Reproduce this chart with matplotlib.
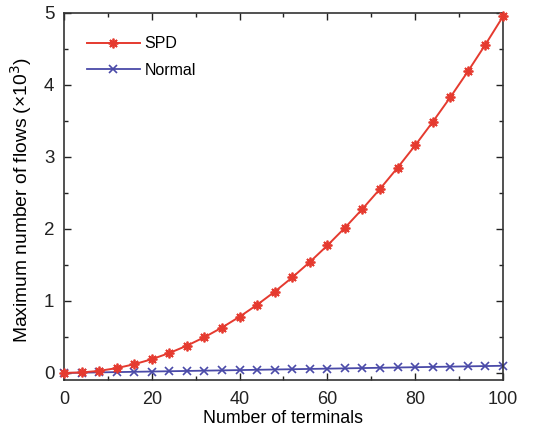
import matplotlib
matplotlib.use("Agg")
import matplotlib.pyplot as plt
from matplotlib.ticker import MultipleLocator

plt.rcParams['font.family'] = ['Liberation Sans', 'DejaVu Sans']

terminals = [0, 4, 8, 12, 16, 20, 24, 28, 32, 36, 40, 44, 48, 52, 56, 60,
             64, 68, 72, 76, 80, 84, 88, 92, 96, 100]
spd = [0.0, 0.006, 0.028, 0.066, 0.12, 0.19, 0.276, 0.378, 0.496, 0.63, 0.78,
       0.946, 1.128, 1.326, 1.54, 1.77, 2.016, 2.278, 2.556, 2.85, 3.16, 3.486,
       3.828, 4.186, 4.56, 4.95]
normal = [-0.001, 0.003, 0.007, 0.011, 0.015, 0.019, 0.023, 0.027, 0.031,
          0.035, 0.039, 0.043, 0.047, 0.051, 0.055, 0.059, 0.063, 0.067, 0.071,
          0.075, 0.079, 0.083, 0.087, 0.091, 0.095, 0.099]

fig = plt.figure(figsize=(5.44, 4.29), dpi=100)
ax = fig.add_axes([0.1176, 0.114, 0.807, 0.856])

ax.plot(terminals, normal, color='#4a4aa8', lw=1.3, marker='x', ms=5.5,
        mew=1.2, label='Normal', clip_on=False, zorder=2)
ax.plot(terminals, spd, color='#e53a2f', lw=1.4, marker=(8, 2, 0), ms=7,
        mew=1.3, mfc='#e53a2f', mec='#e53a2f', label='SPD', clip_on=False,
        zorder=3)

ax.set_xlim(0, 100)
ax.set_ylim(-0.1, 5)
ax.xaxis.set_major_locator(MultipleLocator(20))
ax.xaxis.set_minor_locator(MultipleLocator(10))
ax.yaxis.set_major_locator(MultipleLocator(1))
ax.yaxis.set_minor_locator(MultipleLocator(0.5))
ax.tick_params(which='both', direction='in', top=True, right=True,
               width=1, colors='#222222')
ax.tick_params(axis='x', which='major', labelsize=13, pad=8)
ax.tick_params(axis='y', which='major', labelsize=13.5, pad=7)
ax.tick_params(which='major', length=5)
ax.tick_params(which='minor', length=3)
for s in ax.spines.values():
    s.set_linewidth(1.2)
    s.set_color('#333333')

ax.set_xlabel('Number of terminals', fontsize=12.8, labelpad=1)
ax.set_ylabel('Maximum number of flows (×10$^3$)', fontsize=13.9)
ax.yaxis.set_label_coords(-0.068, 0.49)

handles, labels = ax.get_legend_handles_labels()
leg = ax.legend(handles[::-1], labels[::-1], loc='upper left', frameon=False,
                fontsize=11.5, bbox_to_anchor=(0.02, 0.975), handlelength=3.3,
                handletextpad=0.3, labelspacing=0.7)

fig.savefig('out.png', dpi=100)
